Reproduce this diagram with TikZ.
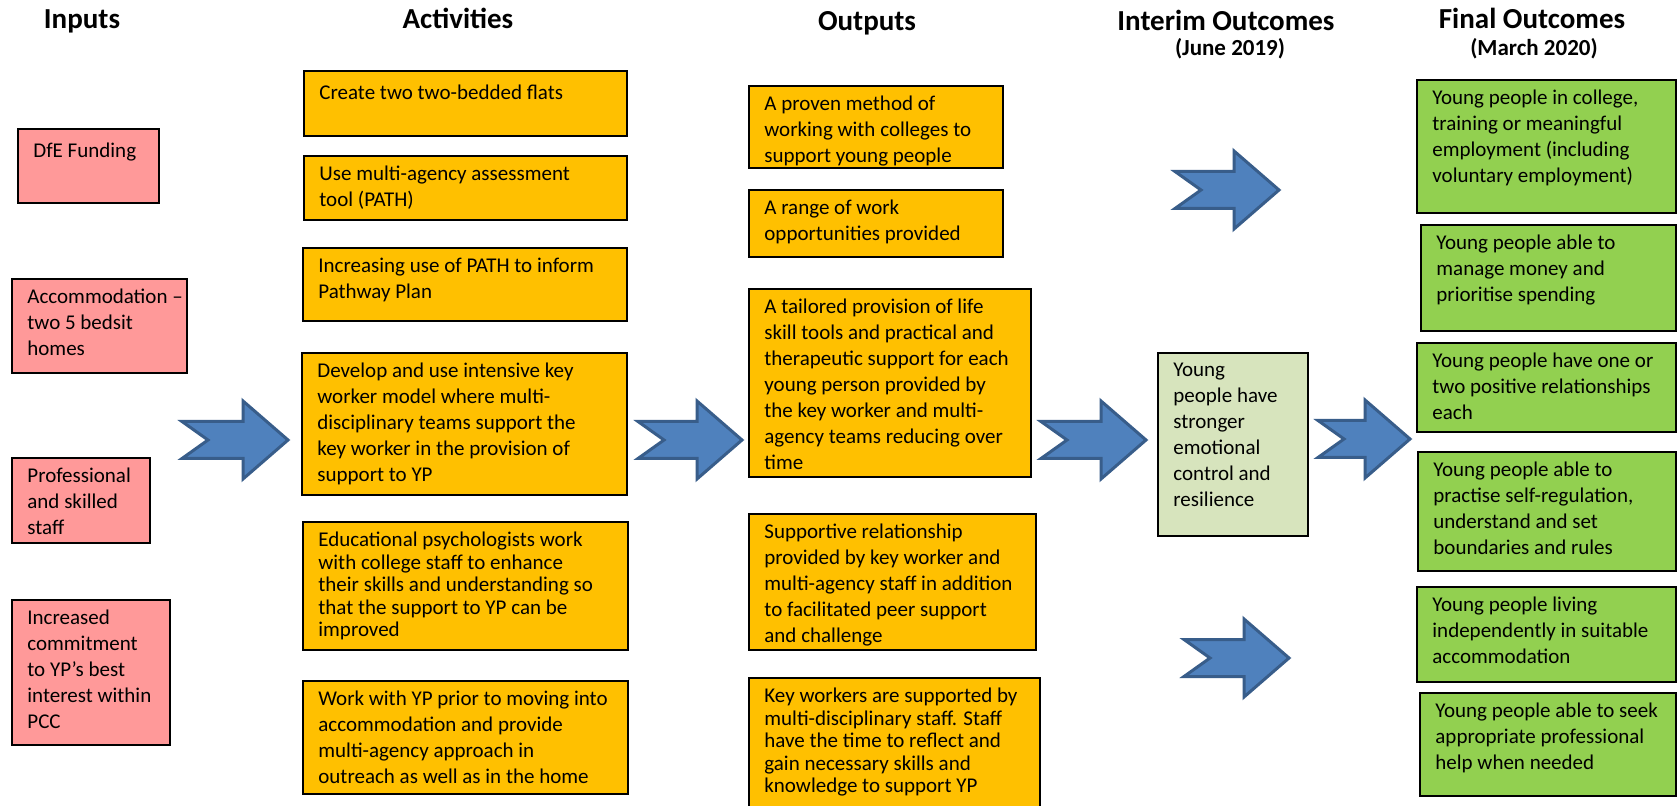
\documentclass[tikz,border=0pt]{standalone}
\usepackage{fontspec}
\setmainfont{Carlito}
\definecolor{inpink}{HTML}{FF9999}
\definecolor{actorange}{HTML}{FFC000}
\definecolor{outgreen}{HTML}{92D050}
\definecolor{midgreen}{HTML}{D7E4BD}
\definecolor{arrblue}{HTML}{4F81BD}
\definecolor{arrline}{HTML}{385D8A}
\begin{document}
\begin{tikzpicture}[x=0.5pt, y=-0.5pt, line join=miter,
    box/.style={draw=black, line width=1.1pt},
    txt/.style={anchor=north west, align=left, inner xsep=7.5pt, inner ysep=4.8pt, font=\fontsize{10.5}{13}\selectfont, execute at begin node=\strut},
    tight/.style={font=\fontsize{10.5}{11.25}\selectfont},
    head/.style={anchor=base, font=\fontsize{14.5}{17}\selectfont\bfseries},
    subhead/.style={anchor=base, font=\fontsize{11.5}{14}\selectfont\bfseries},
    bigarrow/.pic={\draw[fill=arrblue, draw=arrline, line width=1.5pt] (0,-18.5) -- (#1-45,-18.5) -- (#1-45,-39) -- (#1,0) -- (#1-45,39) -- (#1-45,18.5) -- (0,18.5) -- (26,0) -- cycle;}]
	\clip (0,0) rectangle (1680,806);
	\fill[white] (0,0) rectangle (1680,806);
	\node[head] (hin) at (82,29) {Inputs};
	\node[head] (hact) at (458,29) {Activities};
	\node[head] (hout) at (867,31) {Outputs};
	\node[head] (hmid) at (1226,31) {Interim Outcomes};
	\node[subhead] (hmid2) at (1230,56) {(June 2019)};
	\node[head] (hfin) at (1532,29) {Final Outcomes};
	\node[subhead] (hfin2) at (1534,56) {(March 2020)};
	\draw[box, fill=inpink] (18,129) rectangle (159,203);
	\node[txt] (in1) at (18,129) {DfE Funding};
	\draw[box, fill=inpink] (12,279) rectangle (187,373);
	\node[txt] (in2) at (12,279) {Accommodation –\\two 5 bedsit\\homes};
	\draw[box, fill=inpink] (12,458) rectangle (150,543);
	\node[txt] (in3) at (12,458) {Professional\\and skilled\\staff};
	\draw[box, fill=inpink] (12,600) rectangle (170,745);
	\node[txt] (in4) at (12,600) {Increased\\commitment\\to YP’s best\\interest within\\PCC};
	\draw[box, fill=actorange] (304,71) rectangle (627,136);
	\node[txt] (act1) at (304,71) {Create two two-bedded flats};
	\draw[box, fill=actorange] (304,156) rectangle (627,220);
	\node[txt] (act2) at (304,156) {Use multi-agency assessment\\tool (PATH)};
	\draw[box, fill=actorange] (303,248) rectangle (627,321);
	\node[txt] (act3) at (303,248) {Increasing use of PATH to inform\\Pathway Plan};
	\draw[box, fill=actorange] (302,353) rectangle (627,495);
	\node[txt] (act4) at (302,353) {Develop and use intensive key\\worker model where multi-\\disciplinary teams support the\\key worker in the provision of\\support to YP};
	\draw[box, fill=actorange] (303,522) rectangle (628,650);
	\node[txt, tight] (act5) at (303,522) {Educational psychologists work\\with college staff to enhance\\their skills and understanding so\\that the support to YP can be\\improved};
	\draw[box, fill=actorange] (303,681) rectangle (628,794);
	\node[txt] (act6) at (303,681) {Work with YP prior to moving into\\accommodation and provide\\multi-agency approach in\\outreach as well as in the home};
	\draw[box, fill=actorange] (749,86) rectangle (1003,168);
	\node[txt] (out1) at (749,86) {A proven method of\\working with colleges to\\support young people};
	\draw[box, fill=actorange] (749,190) rectangle (1003,257);
	\node[txt] (out2) at (749,190) {A range of work\\opportunities provided};
	\draw[box, fill=actorange] (749,289) rectangle (1031,477);
	\node[txt] (out3) at (749,289) {A tailored provision of life\\skill tools and practical and\\therapeutic support for each\\young person provided by\\the key worker and multi-\\agency teams reducing over\\time};
	\draw[box, fill=actorange] (749,514) rectangle (1036,650);
	\node[txt] (out4) at (749,514) {Supportive relationship\\provided by key worker and\\multi-agency staff in addition\\to facilitated peer support\\and challenge};
	\draw[box, fill=actorange] (749,678) rectangle (1040,820);
	\node[txt, tight] (out5) at (749,678) {Key workers are supported by\\multi-disciplinary staff. Staff\\have the time to reflect and\\gain necessary skills and\\knowledge to support YP};
	\draw[box, fill=midgreen] (1158,353) rectangle (1308,536);
	\node[txt] (mid) at (1158,353) {Young\\people have\\stronger\\emotional\\control and\\resilience};
	\draw[box, fill=outgreen] (1417,80) rectangle (1676,213);
	\node[txt] (fin1) at (1417,80) {Young people in college,\\training or meaningful\\employment (including\\voluntary employment)};
	\draw[box, fill=outgreen] (1421,225) rectangle (1676,331);
	\node[txt] (fin2) at (1421,225) {Young people able to\\manage money and\\prioritise spending};
	\draw[box, fill=outgreen] (1417,343) rectangle (1676,432);
	\node[txt] (fin3) at (1417,343) {Young people have one or\\two positive relationships\\each};
	\draw[box, fill=outgreen] (1418,452) rectangle (1676,571);
	\node[txt] (fin4) at (1418,452) {Young people able to\\practise self-regulation,\\understand and set\\boundaries and rules};
	\draw[box, fill=outgreen] (1417,587) rectangle (1676,682);
	\node[txt] (fin5) at (1417,587) {Young people living\\independently in suitable\\accommodation};
	\draw[box, fill=outgreen] (1420,693) rectangle (1676,796);
	\node[txt] (fin6) at (1420,693) {Young people able to seek\\appropriate professional\\help when needed};
	\pic at (182,440) {bigarrow=106};
	\pic at (638,440) {bigarrow=104};
	\pic at (1041,440) {bigarrow=105};
	\pic at (1318,439) {bigarrow=92};
	\pic at (1175,190) {bigarrow=104};
	\pic at (1184,658) {bigarrow=105};
\end{tikzpicture}
\end{document}
